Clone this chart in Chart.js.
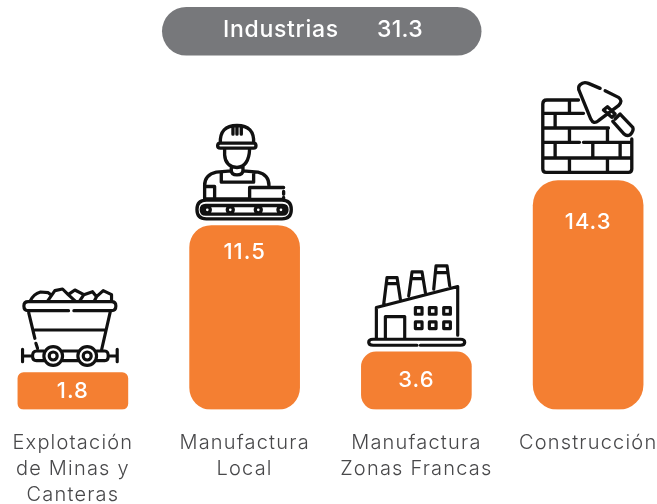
<!DOCTYPE html>
<html><head><meta charset="utf-8">
<style>html,body{margin:0;padding:0;background:#fff;overflow:hidden;width:657px;height:504px}canvas{display:block;margin-left:-13px}</style>
<script src="https://cdn.jsdelivr.net/npm/chart.js@4"></script></head>
<body><canvas id="c" width="687" height="504"></canvas>
<script>
const categories = [["Explotación","de Minas y","Canteras"],["Manufactura","Local"],["Manufactura","Zonas Francas"],["Construcción"]];
const values = [1.8, 11.5, 3.6, 14.3];
const totalLabel = "Industrias";
const totalValue = "31.3";

const ORANGE = "#f47f32", GREY = "#77787b", INK = "#111111", TEXT = "#48484a";
const FONT = "Inter, 'Open Sans', sans-serif";
const radii = [6, 22, 15, 25];
const valueLabelDrop = [19, 27, 28, 41.5];
const pageShift = 13;

/* Icons are drawn in their own local units (3 units = 1 px) and anchored at the top centre of each bar. */
const icons = [
 {ax:219, ay:307.5, w:9.5, d:"M85 95H335Q348 95 348 108Q348 122 335 122H222M206 122H85Q72 122 72 108Q72 95 85 95M85 122L105 205M108 220L113 235M332 122L305 240M105 180H318M68 258H98M68 238V275M352 238V275M352 258H325M132 243H110Q98 243 98 258Q98 272 110 272H132M188 243H235M188 272H235M290 243H315Q325 243 325 258Q325 272 315 272H290M188 258A28 28 0 1 1 132 258A28 28 0 1 1 188 258M172 258A12 12 0 1 1 148 258A12 12 0 1 1 172 258M290 258A28 28 0 1 1 234 258A28 28 0 1 1 290 258M274 258A12 12 0 1 1 250 258A12 12 0 1 1 274 258M90 95Q100 72 122 66L145 68L155 76M142 95L165 62L188 57L205 74L228 95M205 74L225 60L252 74L238 95M252 74L278 65L290 80L282 95M290 80L310 62L335 74V95"},
 {ax:195, ay:342, w:10, d:"M122 95Q120 42 172 42Q225 42 222 95M160 45V68M172 45V68M185 45V68M122 95H222Q229 95 229 103Q229 110 222 110H122Q114 110 114 103Q114 95 122 95M135 112V130Q137 165 172 168Q208 165 210 112M155 165V176Q155 190 172 190Q190 190 190 176V165M155 178L110 182Q75 190 75 222V262M190 178L235 182Q268 190 268 222M125 185V212H222V185M75 225H105M105 225V262M75 262H205M210 262V228H312M312 240V248M312 258V264H210M80 266H307Q335 266 335 294Q335 322 307 322H80Q52 322 52 294Q52 266 80 266M78 282H309Q322 282 322 295Q322 308 309 308H78Q65 308 65 295Q65 282 78 282M92 295A9 9 0 1 1 74 295A9 9 0 1 1 92 295M161 295A9 9 0 1 1 143 295A9 9 0 1 1 161 295M245 295A9 9 0 1 1 227 295A9 9 0 1 1 245 295M313 295A9 9 0 1 1 295 295A9 9 0 1 1 313 295"},
 {ax:198, ay:288, w:9.5, d:"M200 268H68Q55 268 55 259Q55 250 68 250H330Q343 250 343 259Q343 268 330 268H210M78 250V155L322 92V238M105 250V182H163V250M195 155H215V175H195ZM237 155H257V175H237ZM280 155H300V175H280ZM195 198H215V218H195ZM237 198H257V218H237ZM280 198H300V218H280ZM100 145L110 65H140L150 130M108 83H143M175 120L185 48H215L225 110M183 68H217M250 100L257 30H290L298 90M255 50H292"},
 {ax:204, ay:330, w:10, d:"M175 88H80Q68 88 68 100V295Q68 305 78 305H325Q335 305 335 295V205M148 88V128M68 128H190M105 128V172M68 172H265M148 172V215M262 172V215M68 215H178M190 215H335M105 215V262M218 215V262M300 215V262M68 262H335M148 262V305M262 262V305M240 53L205 38Q190 32 180 42Q172 50 178 62L212 145Q220 162 235 150L295 105Q310 90 295 80L255 60M250 118L262 108L285 130L275 140ZM285 145L300 130L338 170Q342 180 330 192Q320 198 312 190L278 152"}
];

const decorations = {
  id: "decorations",
  beforeDraw(chart) {
    const ctx = chart.ctx;
    ctx.letterSpacing = "1.2px";
    ctx.save();
    ctx.translate(pageShift, 0);
    ctx.fillStyle = GREY;
    ctx.beginPath();
    ctx.roundRect(162, 7, 319.5, 48.5, 24.25);
    ctx.fill();
    ctx.fillStyle = "#ffffff";
    ctx.font = "500 23px " + FONT;
    ctx.textBaseline = "middle";
    ctx.textAlign = "left";
    ctx.letterSpacing = "0.7px";
    ctx.fillText(totalLabel, 223, 30);
    ctx.letterSpacing = "0.3px";
    ctx.fillText(totalValue, 377, 30);
    ctx.restore();
  },
  afterDatasetsDraw(chart) {
    const ctx = chart.ctx;
    chart.getDatasetMeta(0).data.forEach((bar, i) => {
      ctx.save();
      ctx.letterSpacing = "1px";
      ctx.fillStyle = "#ffffff";
      ctx.font = "500 22px " + FONT;
      ctx.textAlign = "center";
      ctx.textBaseline = "middle";
      ctx.fillText(String(values[i]), bar.x, bar.y + valueLabelDrop[i]);
      const ic = icons[i];
      ctx.translate(bar.x, bar.y);
      ctx.scale(1/3, 1/3);
      ctx.translate(-ic.ax, -ic.ay);
      ctx.strokeStyle = INK;
      ctx.lineWidth = ic.w;
      ctx.lineCap = "round";
      ctx.lineJoin = "round";
      ctx.stroke(new Path2D(ic.d));
      ctx.restore();
    });
  }
};

new Chart(document.getElementById("c"), {
  type: "bar",
  data: { labels: categories, datasets: [{
    data: values,
    backgroundColor: ORANGE,
    borderRadius: radii,
    borderSkipped: false,
    barThickness: 110,
    minBarLength: 37
  }]},
  plugins: [decorations],
  options: {
    responsive: false,
    animation: false,
    layout: { padding: { left: 0, right: 0, top: 9.5, bottom: 0 } },
    plugins: { legend: { display: false }, tooltip: { enabled: false } },
    scales: {
      x: {
        grid: { display: false },
        border: { display: false },
        afterFit(s) { s.height = 94.5; },
        ticks: { color: TEXT, autoSkip: false, maxRotation: 0, minRotation: 0, padding: 13,
                 font: { family: FONT, size: 20, weight: 300, lineHeight: 1.28 } }
      },
      y: { display: false, min: 0, max: 25 }
    }
  }
});
</script></body></html>
